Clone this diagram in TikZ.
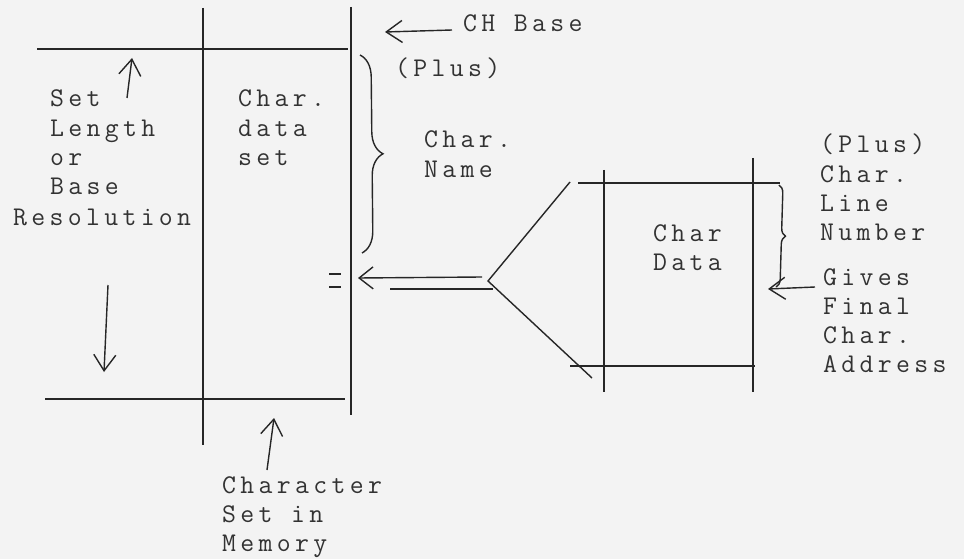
\documentclass[tikz,border=0pt]{standalone}
\usepackage{fontspec}
\usetikzlibrary{arrows.meta,decorations.pathreplacing}
\newfontfamily\tw{Latin Modern Mono}[LetterSpace=16]
\newcommand\wsp{\hspace*{18.6pt}}
\definecolor{bg}{RGB}{243,243,243}
\definecolor{ink}{RGB}{38,38,38}
\definecolor{txt}{RGB}{50,50,50}
\begin{document}
\begin{tikzpicture}[x=1pt,y=-1pt,
  ln/.style={draw=ink,line width=1.4pt},
  arr/.style={ln,-{Straight Barb[length=16pt,width=22pt]}},
  lbl/.style={text=txt,font=\tw\fontsize{27}{29.3}\selectfont,inner sep=0pt,anchor=base west,align=left,text width=220pt}]
\fill[bg] (0,0) rectangle (964,559);
\useasboundingbox (0,0) rectangle (964,559);
% left structure
\coordinate (TL) at (37,49); \coordinate (TR) at (348,49);
\coordinate (BL) at (45,399); \coordinate (BR) at (345,399);
\coordinate (V1t) at (203,8); \coordinate (V1b) at (203,445);
\coordinate (V2t) at (351,7); \coordinate (V2b) at (351,415);
\draw[ln] (TL) -- (TR);
\draw[ln] (BL) -- (BR);
\draw[ln] (V1t) -- (V1b);
\draw[ln] (V2t) -- (V2b);
% arrows on left
\coordinate (a1s) at (127,98); \coordinate (a1e) at (132,58);
\coordinate (a2s) at (108,285); \coordinate (a2e) at (104,372);
\coordinate (a3s) at (267,470); \coordinate (a3e) at (274,418);
\draw[arr] (a1s) -- (a1e);
\draw[arr] (a2s) -- (a2e);
\draw[arr] (a3s) -- (a3e);
% CH base arrow
\coordinate (chs) at (452,30); \coordinate (che) at (385,32);
\draw[arr] (chs) -- (che);
% big brace
\coordinate (b1t) at (360,55); \coordinate (b1b) at (362,253);
\draw[ln,decorate,decoration={brace,amplitude=22pt}] (b1t) -- (b1b);
% equals marks
\coordinate (e1a) at (329,274); \coordinate (e1b) at (341,274);
\coordinate (e2a) at (329,287); \coordinate (e2b) at (341,287);
\draw[ln,line width=1.1pt] (e1a) -- (e1b);
\draw[ln,line width=1.1pt] (e2a) -- (e2b);
% double arrow and V
\coordinate (da1s) at (482,277); \coordinate (da1e) at (358,278);
\coordinate (da2s) at (390,289); \coordinate (da2e) at (493,289);
\coordinate (vtop) at (570,182); \coordinate (vapex) at (488,281); \coordinate (vbot) at (592,378);
\draw[ln,-{Straight Barb[length=14pt,width=22pt]}] (da1s) -- (da1e);
\draw[ln] (da2s) -- (da2e);
\draw[ln] (vtop) -- (vapex) -- (vbot);
% char data box
\coordinate (cT1) at (578,183); \coordinate (cT2) at (780,183);
\coordinate (cB1) at (570,366); \coordinate (cB2) at (755,366);
\coordinate (cL1) at (604,170); \coordinate (cL2) at (604,392);
\coordinate (cR1) at (753,158); \coordinate (cR2) at (753,392);
\draw[ln] (cT1) -- (cT2);
\draw[ln] (cB1) -- (cB2);
\draw[ln] (cL1) -- (cL2);
\draw[ln] (cR1) -- (cR2);
% small brace
\coordinate (b2t) at (779,185); \coordinate (b2b) at (776,287);
\draw[ln,decorate,decoration={brace,amplitude=8pt}] (b2t) -- (b2b);
% gives arrow
\coordinate (gs) at (815,287); \coordinate (ge) at (768,289);
\draw[arr] (gs) -- (ge);
% texts
\node[lbl] (tset) at (50,107) {Set\\Length\\or\\Base};
\node[lbl] (tres) at (13,225) {Resolution};
\node[lbl] (tcds) at (238,107) {Char.\\data\\set};
\node[lbl] (tch) at (463,32) {CH\wsp Base};
\node[lbl] (tplus) at (395,77) {(Plus)};
\node[lbl] (tname) at (424,148) {Char.\\Name};
\node[lbl] (tcd) at (653,241) {Char\\Data};
\node[lbl] (tline) at (820,153) {(Plus)\\Char.\\Line\\Number};
\node[lbl] (tgive) at (823,285) {Gives\\Final\\Char.\\Address};
\node[lbl] (tmem) at (222,493) {Character\\Set\wsp in\\Memory};
\end{tikzpicture}
\end{document}
